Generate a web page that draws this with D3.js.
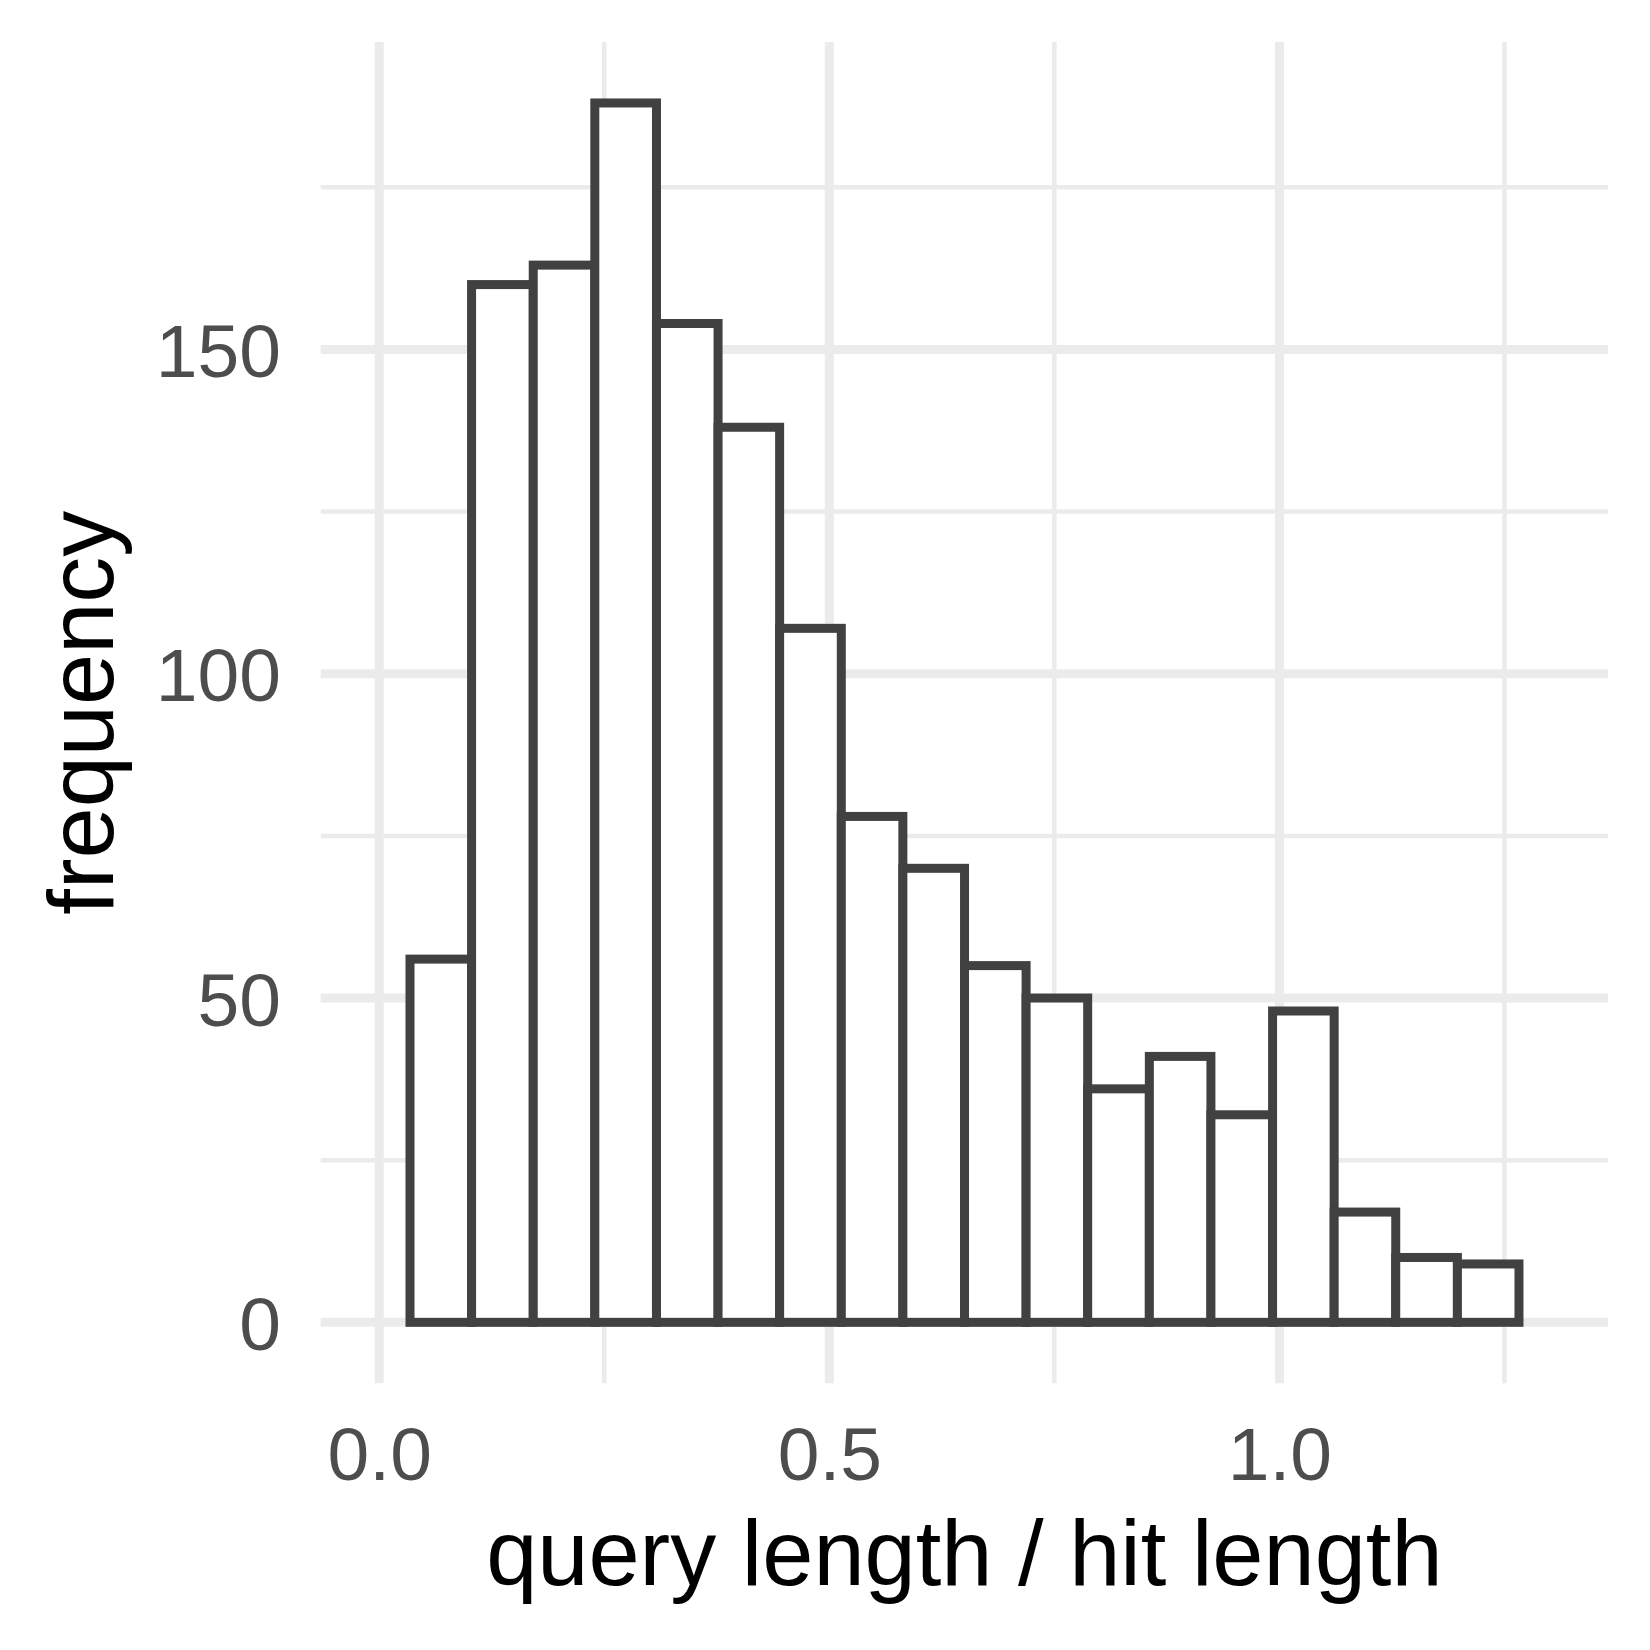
<!DOCTYPE html>
<html>
<head>
<meta charset="utf-8">
<script src="https://cdn.jsdelivr.net/npm/d3@7"></script>
<style>
  body { margin: 0; background: #fff; }
  svg { display: block; font-family: "Liberation Sans", Arial, sans-serif; }
</style>
</head>
<body>
<svg id="svg" width="1650" height="1650"></svg>
<script>
// histogram bins (left edge) and counts
let binStarts = [0.0342, 0.1026, 0.1711, 0.2395, 0.3080, 0.3764, 0.4448, 0.5133, 0.5817,
                 0.6502, 0.7186, 0.7870, 0.8555, 0.9239, 0.9924, 1.0608, 1.1292, 1.1977];
let binEnds = [0.1026, 0.1711, 0.2395, 0.3080, 0.3764, 0.4448, 0.5133, 0.5817, 0.6502,
               0.7186, 0.7870, 0.8555, 0.9239, 0.9924, 1.0608, 1.1292, 1.1977, 1.2661];
let counts = [56, 160, 163, 188, 154, 138, 107, 78, 70, 55, 50, 36, 41, 32, 48, 17, 10, 9];

let xMajor = [0, 0.5, 1.0];
let xMinor = [0.25, 0.75, 1.25];
let yMajor = [0, 50, 100, 150];
let yMinor = [25, 75, 125, 175];
let xTickLabels = ["0.0", "0.5", "1.0"];
let yTickLabels = ["0", "50", "100", "150"];

let panelLeft = 320.7, panelRight = 1608, panelTop = 42, panelBottom = 1383.3;

let x = d3.scaleLinear().domain([-0.065, 1.365]).range([panelLeft, panelRight]);
let y = d3.scaleLinear().domain([-9.4, 197.4]).range([panelBottom, panelTop]);

let svg = d3.select("#svg");
let grid = svg.append("g");

// minor grid
grid.selectAll(".ymin").data(yMinor).enter().append("line")
    .attr("x1", panelLeft).attr("x2", panelRight)
    .attr("y1", d => y(d)).attr("y2", d => y(d))
    .style("stroke", "#ebebeb").style("stroke-width", 4.5);
grid.selectAll(".xmin").data(xMinor).enter().append("line")
    .attr("y1", panelTop).attr("y2", panelBottom)
    .attr("x1", d => x(d)).attr("x2", d => x(d))
    .style("stroke", "#ebebeb").style("stroke-width", 4.5);

// major grid
grid.selectAll(".ymaj").data(yMajor).enter().append("line")
    .attr("x1", panelLeft).attr("x2", panelRight)
    .attr("y1", d => y(d)).attr("y2", d => y(d))
    .style("stroke", "#ebebeb").style("stroke-width", 9);
grid.selectAll(".xmaj").data(xMajor).enter().append("line")
    .attr("y1", panelTop).attr("y2", panelBottom)
    .attr("x1", d => x(d)).attr("x2", d => x(d))
    .style("stroke", "#ebebeb").style("stroke-width", 9);

// bars
svg.append("g").selectAll("rect")
    .data(counts)
    .enter()
    .append("rect")
    .attr("x", (d, i) => x(binStarts[i]))
    .attr("width", (d, i) => x(binEnds[i]) - x(binStarts[i]))
    .attr("y", d => y(d))
    .attr("height", d => y(0) - y(d))
    .style("fill", "white")
    .style("stroke", "#414141")
    .style("stroke-width", 9);

// axes (labels only)
let xAxis = d3.axisBottom(x)
    .tickValues(xMajor)
    .tickFormat((d, i) => xTickLabels[i])
    .tickSize(0)
    .tickPadding(0);
let gx = svg.append("g").attr("transform", "translate(0,1480)").call(xAxis);
gx.select(".domain").remove();
gx.selectAll("text")
    .attr("y", 0).attr("dy", 0)
    .style("font-size", "75px")
    .style("font-family", "'Liberation Sans', Arial, sans-serif")
    .style("fill", "#4d4d4d");

let yAxis = d3.axisLeft(y)
    .tickValues(yMajor)
    .tickFormat((d, i) => yTickLabels[i])
    .tickSize(0)
    .tickPadding(0);
let gy = svg.append("g").attr("transform", "translate(281,0)").call(yAxis);
gy.select(".domain").remove();
gy.selectAll("text")
    .attr("x", 0).attr("dy", "0.36em")
    .style("font-size", "75px")
    .style("font-family", "'Liberation Sans', Arial, sans-serif")
    .style("fill", "#4d4d4d");

// titles
svg.append("text")
    .attr("x", (panelLeft + panelRight) / 2)
    .attr("y", 1585)
    .attr("text-anchor", "middle")
    .style("font-size", "92px")
    .style("fill", "black")
    .text("query length / hit length");

svg.append("text")
    .attr("transform", `translate(113,${(panelTop + panelBottom) / 2}) rotate(-90)`)
    .attr("text-anchor", "middle")
    .style("font-size", "92px")
    .style("fill", "black")
    .text("frequency");
</script>
</body>
</html>
